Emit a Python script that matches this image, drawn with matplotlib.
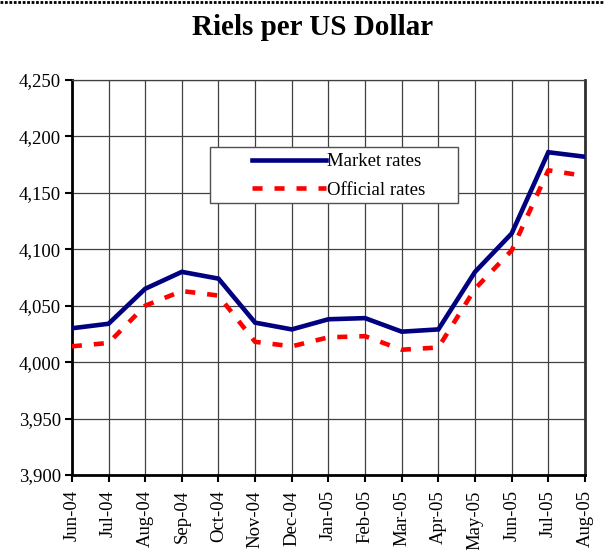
import matplotlib.pyplot as plt
from matplotlib.lines import Line2D
from matplotlib.patches import Rectangle
from matplotlib.ticker import FuncFormatter

# Data
months = ["Jun-04", "Jul-04", "Aug-04", "Sep-04", "Oct-04", "Nov-04", "Dec-04",
          "Jan-05", "Feb-05", "Mar-05", "Apr-05", "May-05", "Jun-05", "Jul-05", "Aug-05"]
market = [4030, 4034, 4065, 4080, 4074, 4035, 4029, 4038, 4039, 4027, 4029,
          4080, 4114, 4186, 4182]
official = [4014, 4017, 4050, 4063, 4059, 4018, 4014, 4022, 4023, 4011, 4013,
            4065, 4099, 4170, 4165]

plt.rcParams["font.family"] = ["Liberation Serif", "DejaVu Serif"]

fig = plt.figure(figsize=(6.04, 5.5), dpi=100)
ax = fig.add_axes([0.119, 0.1364, 0.8495, 0.7181])

x = range(len(months))
ax.plot(x, market, color="#000080", lw=3.3, label="Market rates",
        solid_joinstyle="miter", zorder=3)
ax.plot(x, official, color="#ff0000", lw=3.3, label="Official rates",
        linestyle=(0, (2.2, 2.6)), zorder=3)

ax.set_xlim(0, len(months) - 1)
ax.set_ylim(3900, 4250)
ax.set_yticks(range(3900, 4251, 50))
ax.yaxis.set_major_formatter(FuncFormatter(lambda v, p: f"{int(v):,}"))
ax.set_xticks(list(x))
ax.set_xticklabels(months, rotation=90, fontsize=13.5)
ax.tick_params(axis="y", labelsize=13.5, direction="out", length=5, width=1.5, pad=3)
ax.tick_params(axis="x", direction="out", length=5, width=1.5, pad=6)

ax.grid(True, color="#404040", lw=0.9)
ax.set_axisbelow(True)
for s in ["left", "bottom"]:
    ax.spines[s].set_linewidth(2)
    ax.spines[s].set_color("black")
ax.spines["right"].set_linewidth(2)
ax.spines["right"].set_color("#303030")
ax.spines["top"].set_linewidth(0.9)
ax.spines["top"].set_color("#404040")

# legend box drawn by hand so the handles can sit further in
ax.add_patch(Rectangle((0.269, 0.689), 0.483, 0.141, transform=ax.transAxes,
                       facecolor="white", edgecolor="#505050", lw=1.0, zorder=4))
leg = ax.legend(loc="upper left", bbox_to_anchor=(0.351, 0.815), fontsize=13.5,
                frameon=False, handlelength=3.95, handletextpad=0.05,
                borderpad=0, borderaxespad=0, labelspacing=0.62)
leg.set_zorder(5)

fig.suptitle("Riels per US Dollar", fontsize=21, fontweight="bold",
             x=0.517, y=0.975)
fig.add_artist(Line2D([0, 1], [0.996, 0.996], transform=fig.transFigure,
                      color="black", lw=2, linestyle=(0, (1, 0.6))))

plt.savefig("out.png", dpi=100)
